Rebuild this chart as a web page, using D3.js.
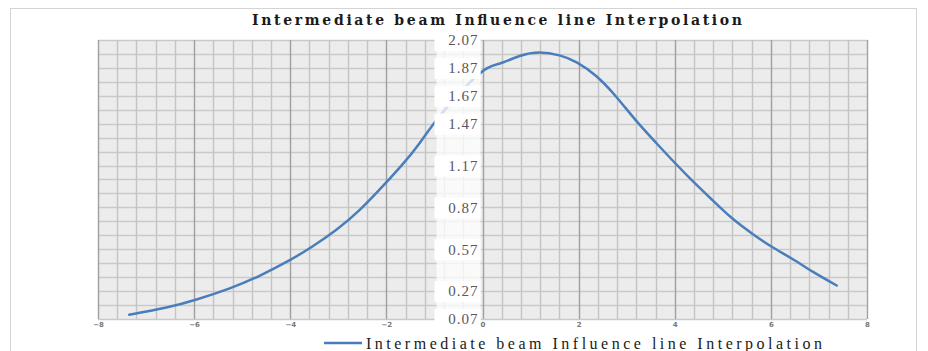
<!DOCTYPE html>
<html>
<head>
<meta charset="utf-8">
<script src="https://cdn.jsdelivr.net/npm/d3@7"></script>
<style>
  body { margin: 0; background: #fff; }
  svg { display: block; }
</style>
</head>
<body>
<div id="container"></div>
<script>
// curve
const xValues = [-7.35, -6.6, -5.95, -5.26, -4.64, -4.02, -3.54, -3.04, -2.56, -2.08, -1.66, -1.31, -0.83,
  -0.06, 0.35, 0.77, 1.19, 1.6, 1.96, 2.37, 2.79, 3.2, 3.62, 4.0, 4.37, 4.79, 5.2, 5.62, 6.01, 6.45, 6.87, 7.37];
const yValues = [0.10, 0.15, 0.21, 0.29, 0.38, 0.49, 0.59, 0.71, 0.85, 1.02, 1.18, 1.33, 1.55,
  1.83, 1.90, 1.955, 1.98, 1.96, 1.91, 1.81, 1.66, 1.49, 1.33, 1.19, 1.06, 0.92, 0.79, 0.68, 0.59, 0.50, 0.41, 0.31];
const yTicks = [0.07, 0.27, 0.57, 0.87, 1.17, 1.47, 1.67, 1.87, 2.07];
const xTicks = [-8, -6, -4, -2, 0, 2, 4, 6, 8];
const title = "Intermediate beam Influence line Interpolation";
const seriesName = "Intermediate beam Influence line Interpolation";

const data = xValues.map((x, i) => ({ x: x, y: yValues[i] }));

const width = 928, height = 351;
const plot = { left: 98, right: 867, top: 40, bottom: 319 };

const svg = d3
  .select("#container")
  .append("svg")
  .attr("width", width)
  .attr("height", height);

// outer frame
svg
  .append("rect")
  .attr("x", 10.5)
  .attr("y", 8.5)
  .attr("width", 906)
  .attr("height", 350)
  .attr("fill", "#fff")
  .attr("stroke", "#d4d4d4");

const xScale = d3.scaleLinear().domain([-8, 8]).range([plot.left, plot.right]);
const yScale = d3.scaleLinear().domain([0.07, 2.07]).range([plot.bottom, plot.top]);

svg
  .append("rect")
  .attr("x", plot.left)
  .attr("y", plot.top)
  .attr("width", plot.right - plot.left)
  .attr("height", plot.bottom - plot.top)
  .attr("fill", "#ececec");

// horizontal grid every 0.1
const hLines = d3.range(0, 21).map((i) => 0.07 + i * 0.1);
svg
  .append("g")
  .selectAll("line")
  .data(hLines)
  .enter()
  .append("line")
  .attr("x1", plot.left)
  .attr("x2", plot.right)
  .attr("y1", (d) => Math.round(yScale(d)) + 0.5)
  .attr("y2", (d) => Math.round(yScale(d)) + 0.5)
  .attr("stroke", "#c9c9c9")
  .attr("stroke-width", 1.3);

// vertical grid every 0.4, darker every 2
const vLines = d3.range(0, 41).map((i) => -8 + i * 0.4);
svg
  .append("g")
  .selectAll("line")
  .data(vLines)
  .enter()
  .append("line")
  .attr("x1", (d) => Math.round(xScale(d)) + 0.5)
  .attr("x2", (d) => Math.round(xScale(d)) + 0.5)
  .attr("y1", plot.top)
  .attr("y2", plot.bottom)
  .attr("stroke", (d) => (Math.abs(d / 2 - Math.round(d / 2)) < 1e-6 ? "#a0a0a0" : "#c4c4c4"))
  .attr("stroke-width", 1.4);

// curve
const line = d3
  .line()
  .x((d) => xScale(d.x))
  .y((d) => yScale(d.y))
  .curve(d3.curveNatural);

svg
  .append("path")
  .datum(data)
  .attr("fill", "none")
  .attr("stroke", "#4a7ebb")
  .attr("stroke-width", 2.5)
  .attr("stroke-linecap", "round")
  .attr("d", line);

// y axis labels sitting on x = 0, over a whitish strip
const yLab = svg.append("g");
yLab
  .append("rect")
  .attr("x", xScale(0) - 46)
  .attr("y", yScale(2.07) - 6)
  .attr("width", 44)
  .attr("height", yScale(0.07) - yScale(2.07) + 12)
  .attr("fill", "#fff")
  .attr("opacity", 0.75);
yLab
  .selectAll(".lab-bg")
  .data(yTicks)
  .enter()
  .append("rect")
  .attr("class", "lab-bg")
  .attr("x", xScale(0) - 48)
  .attr("y", (d) => yScale(d) - 10)
  .attr("width", 46)
  .attr("height", 21)
  .attr("fill", "#fff");
yLab
  .selectAll("text")
  .data(yTicks)
  .enter()
  .append("text")
  .attr("x", xScale(0) - 4)
  .attr("y", (d) => yScale(d))
  .attr("dy", "0.35em")
  .attr("text-anchor", "end")
  .attr("font-family", "Liberation Serif, serif")
  .attr("font-size", 15)
  .attr("letter-spacing", 1)
  .attr("fill", "#5a5560")
  .text((d) => d3.format(".2f")(d));

// x tick labels
const xAxis = d3.axisBottom(xScale).tickValues(xTicks).tickSize(0).tickPadding(3);
const gx = svg
  .append("g")
  .attr("transform", `translate(0, ${plot.bottom})`)
  .call(xAxis);
gx.select(".domain").remove();
gx.selectAll("text")
  .attr("font-family", "DejaVu Sans, sans-serif")
  .attr("font-size", 7)
  .attr("font-weight", "bold")
  .attr("fill", "#777");

// title
svg
  .append("text")
  .attr("x", 497)
  .attr("y", 25)
  .attr("text-anchor", "middle")
  .attr("font-family", "DejaVu Serif, serif")
  .attr("font-weight", "bold")
  .attr("font-size", 14)
  .attr("textLength", 490)
  .attr("lengthAdjust", "spacing")
  .attr("fill", "#1a1a1a")
  .text(title);

// legend
const legend = svg.append("g").attr("transform", "translate(324, 343)");
legend
  .append("line")
  .attr("x1", 0)
  .attr("x2", 38)
  .attr("y1", 0)
  .attr("y2", 0)
  .attr("stroke", "#4a7ebb")
  .attr("stroke-width", 2.5);
legend
  .append("text")
  .attr("x", 42)
  .attr("y", 0)
  .attr("dy", "0.35em")
  .attr("font-family", "Liberation Serif, serif")
  .attr("font-size", 16)
  .attr("textLength", 456)
  .attr("lengthAdjust", "spacing")
  .attr("fill", "#1a1a1a")
  .text(seriesName);
</script>
</body>
</html>
